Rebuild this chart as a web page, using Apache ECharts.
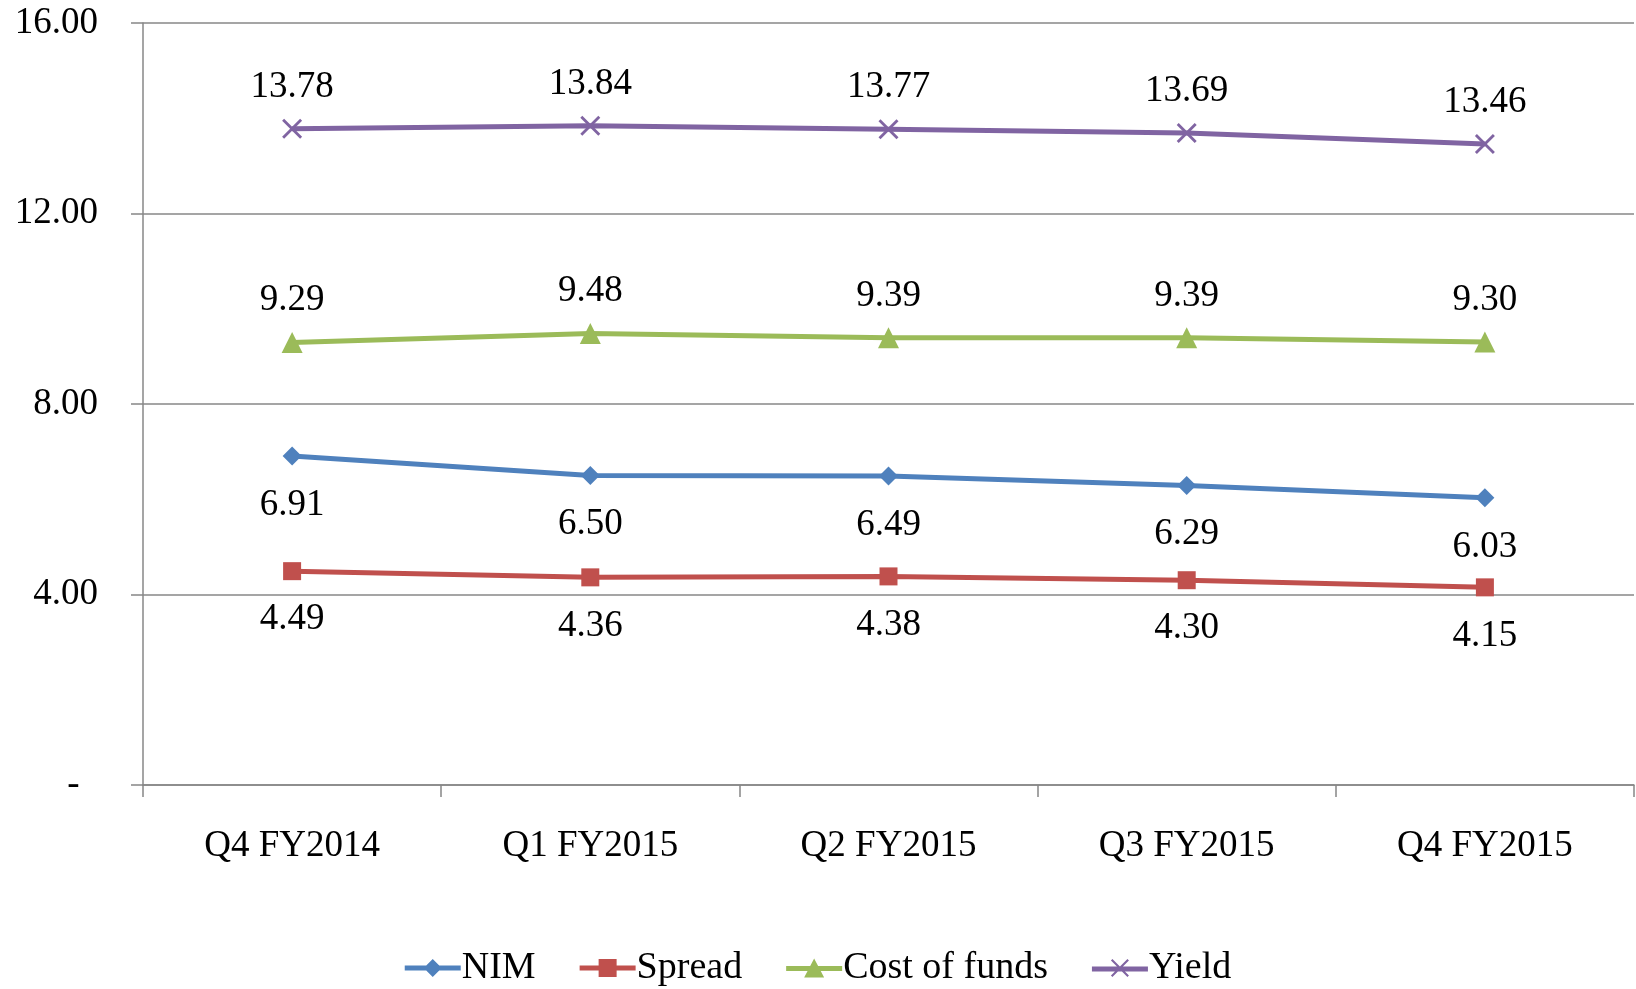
<!DOCTYPE html>
<html>
<head>
<meta charset="utf-8">
<script src="https://cdn.jsdelivr.net/npm/echarts@6/dist/echarts.min.js"></script>
<style>
  html, body { margin: 0; padding: 0; background: #fff; }
  #chart { width: 1636px; height: 989px; }
</style>
</head>
<body>
<div id="chart"></div>
<script>
const quarters = ['Q4 FY2014', 'Q1 FY2015', 'Q2 FY2015', 'Q3 FY2015', 'Q4 FY2015'];
const nim = [6.91, 6.50, 6.49, 6.29, 6.03];
const spread = [4.49, 4.36, 4.38, 4.30, 4.15];
const costOfFunds = [9.29, 9.48, 9.39, 9.39, 9.30];
const yieldPct = [13.78, 13.84, 13.77, 13.69, 13.46];

const font = 'Liberation Serif';
const grey = '#878787';
const crossPath = 'path://M0,1L1,0L5,4L9,0L10,1L6,5L10,9L9,10L5,6L1,10L0,9L4,5Z';

// legend icons: thick line with the marker in the middle
const bar = 'M0,8.5H56V13.5H0Z';
const icons = {
    'NIM': 'path://' + bar + 'M28,2L37,11L28,20L19,11Z',
    'Spread': 'path://' + bar + 'M19,2H37V20H19Z',
    'Cost of funds': 'path://' + bar + 'M28,1L38,20L18,20Z',
    'Yield': 'path://' + bar + 'M19,2.5L20.5,1L28,8.5L35.5,1L37,2.5L29.5,10L37,17.5L35.5,19L28,11.5L20.5,19L19,17.5L26.5,10Z'
};

function lineSeries(name, data, color, symbol, size, pos, dist) {
    return {
        name: name,
        type: 'line',
        data: data,
        symbol: symbol,
        symbolSize: size,
        lineStyle: { color: color, width: 5 },
        itemStyle: { color: color },
        label: {
            show: true,
            position: pos,
            distance: dist,
            fontFamily: font,
            fontSize: 37,
            color: '#000',
            formatter: p => p.value.toFixed(2)
        },
        emphasis: { disabled: true }
    };
}

const chart = echarts.init(document.getElementById('chart'));
chart.setOption({
    animation: false,
    grid: { left: 143, top: 23, right: 2, bottom: 204 },
    legend: {
        top: 944,
        left: 'center',
        itemWidth: 56,
        itemHeight: 22,
        itemGap: 44,
        textStyle: { fontFamily: font, fontSize: 38, color: '#000', padding: [0, 0, 0, -4] },
        data: ['NIM', 'Spread', 'Cost of funds', 'Yield'].map(n => ({ name: n, icon: icons[n] }))
    },
    xAxis: {
        type: 'category',
        data: quarters,
        boundaryGap: true,
        axisLine: { lineStyle: { color: grey, width: 1.5 } },
        axisTick: { show: true, length: 12, lineStyle: { color: grey, width: 1.5 } },
        axisLabel: { margin: 43, fontFamily: font, fontSize: 37, color: '#000' }
    },
    yAxis: {
        type: 'value',
        min: 0,
        max: 16,
        interval: 4,
        axisLine: { show: true, lineStyle: { color: grey, width: 1.5 } },
        axisTick: { show: true, length: 12, lineStyle: { color: grey, width: 1.5 } },
        splitLine: { lineStyle: { color: grey, width: 1.5 } },
        axisLabel: {
            margin: 45,
            fontFamily: font,
            fontSize: 37,
            color: '#000',
            formatter: v => v === 0 ? '-  ' : v.toFixed(2)
        }
    },
    series: [
        lineSeries('NIM', nim, '#4F81BD', 'diamond', 19, 'bottom', 21),
        lineSeries('Spread', spread, '#C0504D', 'rect', 18, 'bottom', 21),
        lineSeries('Cost of funds', costOfFunds, '#9BBB59', 'triangle', 21, 'top', 13),
        lineSeries('Yield', yieldPct, '#8064A2', crossPath, 20, 'top', 13)
    ]
});
</script>
</body>
</html>
